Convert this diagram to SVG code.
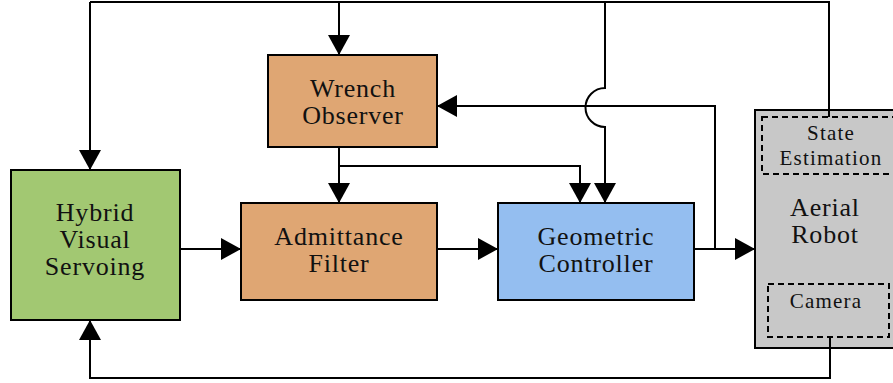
<svg xmlns="http://www.w3.org/2000/svg" width="893" height="383" viewBox="0 0 893 383">
<defs>
<marker id="ah" markerWidth="20" markerHeight="22" refX="20" refY="11" orient="auto" markerUnits="userSpaceOnUse">
<path d="M0,0 L20,11 L0,22 Z" fill="#000"/>
</marker>
<style>
.box{stroke:#000;stroke-width:2}
.dash{fill:none;stroke:#000;stroke-width:2;stroke-dasharray:6,4}
.ln{fill:none;stroke:#000;stroke-width:2}
.arr{fill:none;stroke:#000;stroke-width:2;marker-end:url(#ah)}
.t{font-family:'Liberation Serif',serif;font-size:26px;letter-spacing:0.8px;fill:#111;text-anchor:middle}
.sm{font-size:21px;letter-spacing:1.2px}
</style>
</defs>
<rect width="893" height="383" fill="#fff"/>
<g id="hybrid">
<rect class="box" x="11" y="170" width="169" height="150" fill="#A2C872"/>
<text class="t" x="95" y="221">Hybrid</text>
<text class="t" x="95" y="248">Visual</text>
<text class="t" x="95" y="275">Servoing</text>
</g>
<g id="wrench">
<rect class="box" x="268" y="55" width="169" height="92" fill="#DFA673"/>
<text class="t" x="353" y="97">Wrench</text>
<text class="t" x="353" y="124">Observer</text>
</g>
<g id="admittance">
<rect class="box" x="241" y="203" width="196" height="97" fill="#DFA673"/>
<text class="t" x="339" y="245">Admittance</text>
<text class="t" x="339" y="272">Filter</text>
</g>
<g id="geometric">
<rect class="box" x="498" y="203" width="196" height="97" fill="#94BEF0"/>
<text class="t" x="596" y="245">Geometric</text>
<text class="t" x="596" y="272">Controller</text>
</g>
<g id="aerial">
<rect class="box" x="755" y="110" width="140" height="238" fill="#C8C8C8"/>
<text class="t" x="825" y="216">Aerial</text>
<text class="t" x="825" y="243">Robot</text>
<g id="state">
<rect class="dash" x="762" y="117" width="135" height="57"/>
<text class="t sm" x="831" y="140">State</text>
<text class="t sm" x="831" y="165">Estimation</text>
</g>
<g id="camera">
<rect class="dash" x="768" y="284" width="121" height="53"/>
<text class="t sm" x="826" y="308">Camera</text>
</g>
</g>
<g id="connectors">
<path class="ln" d="M90,2 H829 V117"/>
<path class="arr" d="M90,2 V170"/>
<path class="arr" d="M339,2 V55"/>
<path class="arr" d="M605,2 V88 A19.5,19.5 0 0 0 605,127 V203"/>
<path class="arr" d="M339,147 V203"/>
<path class="arr" d="M339,166 H580 V203"/>
<path class="arr" d="M180,249 H241"/>
<path class="arr" d="M437,249 H498"/>
<path class="arr" d="M694,249 H755"/>
<path class="arr" d="M715,249 V106 H437"/>
<path class="arr" d="M830,337 V378 H90 V320"/>
</g>
</svg>
